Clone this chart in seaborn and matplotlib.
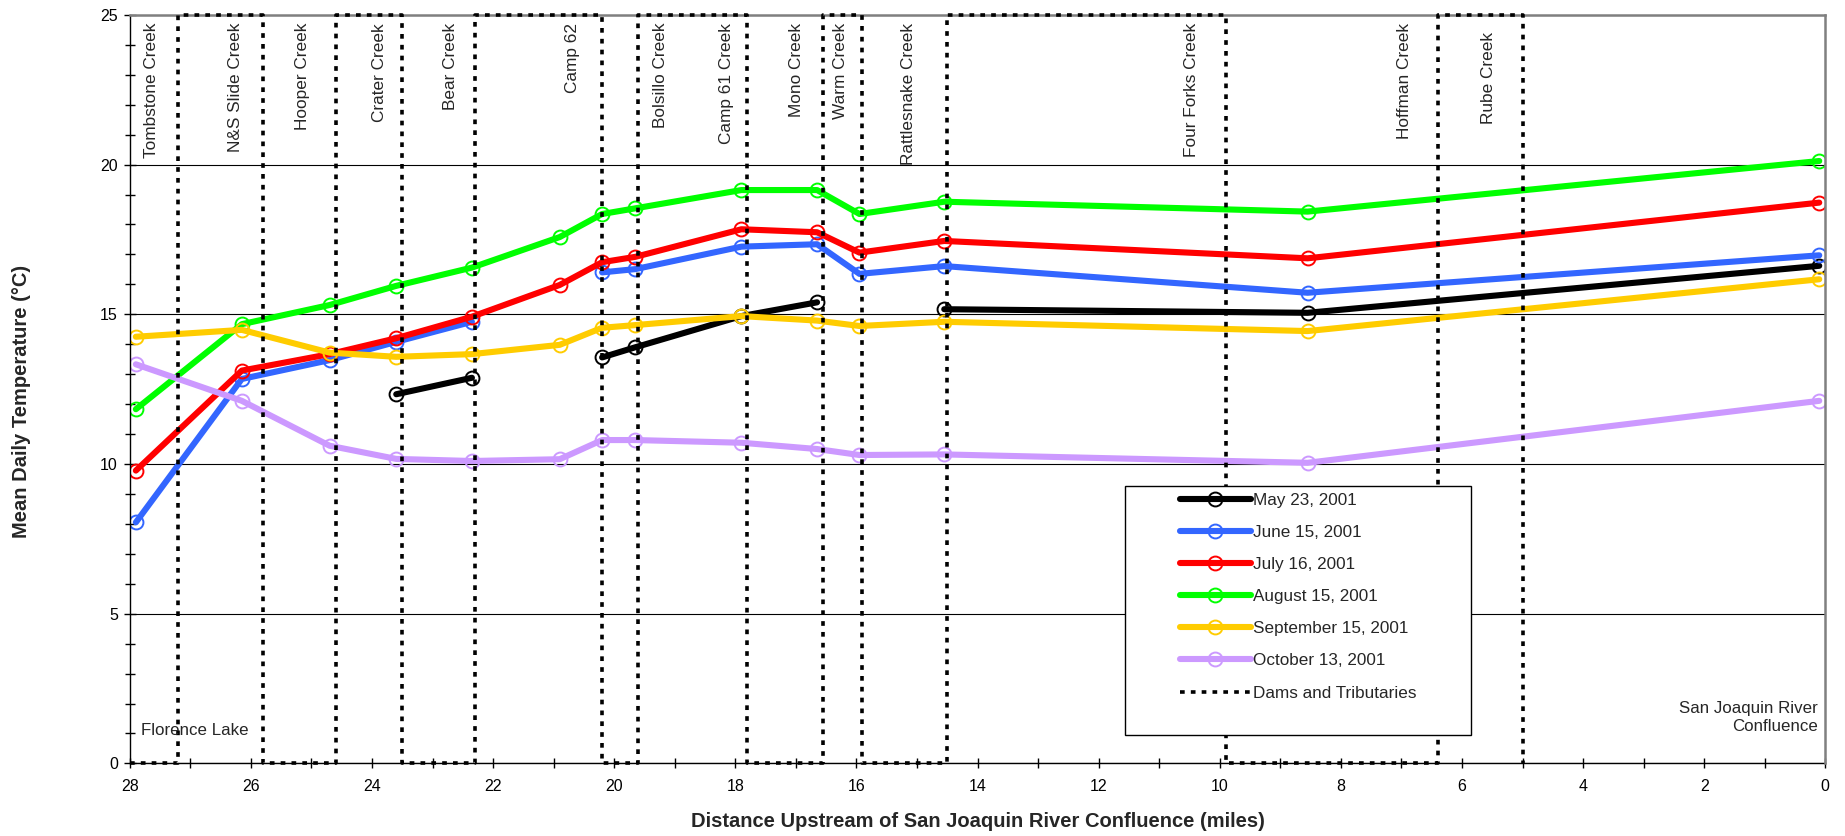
import numpy as np
import pandas as pd
import matplotlib
matplotlib.use("Agg")
import matplotlib.pyplot as plt
from matplotlib.patches import Rectangle
import seaborn as sns

# ---------------- data ----------------
miles = [27.9, 26.15, 24.7, 23.6, 22.35, 20.9, 20.2, 19.65, 17.9, 16.65, 15.95, 14.55, 8.55, 0.1]
nan = np.nan
may23 = [nan, nan, nan, 12.33, 12.88, nan, 13.56, 13.90, 14.94, 15.40, nan, 15.17, 15.05, 16.62]
jun15 = [8.05, 12.84, 13.47, 14.08, 14.75, nan, 16.40, 16.51, 17.26, 17.34, 16.35, 16.61, 15.72, 16.97]
jul16 = [9.78, 13.12, 13.67, 14.20, 14.92, 15.98, 16.74, 16.92, 17.84, 17.74, 17.06, 17.45, 16.87, 18.73]
aug15 = [11.83, 14.67, 15.31, 15.95, 16.56, 17.58, 18.35, 18.54, 19.15, 19.15, 18.35, 18.76, 18.43, 20.12]
sep15 = [14.25, 14.48, 13.72, 13.58, 13.67, 13.98, 14.55, 14.64, 14.94, 14.79, 14.61, 14.75, 14.44, 16.17]
oct13 = [13.33, 12.11, 10.61, 10.17, 10.10, 10.16, 10.80, 10.80, 10.71, 10.50, 10.30, 10.32, 10.04, 12.11]

series_labels = ["May 23, 2001", "June 15, 2001", "July 16, 2001",
                 "August 15, 2001", "September 15, 2001", "October 13, 2001"]
series_values = [may23, jun15, jul16, aug15, sep15, oct13]
series_colors = ["#000000", "#3366FF", "#FF0000", "#00FF00", "#FFCC00", "#CC99FF"]

dam_miles = [27.2, 25.8, 24.6, 23.5, 22.3, 20.2, 19.6, 17.8, 16.55, 15.9, 14.5, 9.9, 6.4, 5.0]
dam_label = "Dams and Tributaries"

creek_names = ["Tombstone Creek", "N&S Slide Creek", "Hooper Creek", "Crater Creek",
               "Bear Creek", "Camp 62", "Bolsillo Creek", "Camp 61 Creek", "Mono Creek",
               "Warm Creek", "Rattlesnake Creek", "Four Forks Creek", "Hoffman Creek",
               "Rube Creek"]
creek_label_miles = [27.64, 26.26, 25.15, 23.88, 22.70, 20.69, 19.23, 18.14, 16.99,
                     16.26, 15.14, 10.47, 6.95, 5.56]

x_min, x_max = 0, 28
y_min, y_max = 0, 25

# ---------------- style ----------------
sns.set_style("white")
plt.rcParams["font.family"] = ["Liberation Sans", "DejaVu Sans"]

W, H = 1845, 836
fig = plt.figure(figsize=(W / 100, H / 100), dpi=100)
ax_l, ax_r, ax_t, ax_b = 129.8, 1825.3, 14.9, 763.4
ax = fig.add_axes([ax_l / W, 1 - ax_b / H, (ax_r - ax_l) / W, (ax_b - ax_t) / H])

handles = []
for lab, vals, col in zip(series_labels, series_values, series_colors):
    v = np.array(vals, dtype=float)
    ok = ~np.isnan(v)
    seg = np.cumsum(np.r_[True, ok[1:] != ok[:-1]])
    df = pd.DataFrame({"mile": miles, "temp": v, "seg": seg})[ok]
    n_before = len(ax.lines)
    sns.lineplot(data=df, x="mile", y="temp", units="seg", estimator=None,
                 color=col, lw=4.4, marker="o", markersize=10,
                 mfc="none", mec=col, mew=1.4, ax=ax, zorder=2)
    handles.append(ax.lines[n_before])

# dams and tributaries square wave
dx, dy = [x_max], [y_min]
level = y_min
for d in dam_miles:
    other = y_max if level == y_min else y_min
    dx += [d, d]
    dy += [level, other]
    level = other
sns.lineplot(x=dx, y=dy, sort=False, estimator=None, color="black", lw=2.6,
             linestyle=(0, (1.3, 1.7)), ax=ax, zorder=3, clip_on=False)
dam_handle = ax.lines[-1]

ax.set_xlim(x_max, x_min)
ax.set_ylim(y_min, y_max)
ax.set_xticks(np.arange(0, 29, 2))
ax.set_xticks(np.arange(0, 29, 1), minor=True)
ax.set_yticks(np.arange(0, 26, 5))
ax.set_yticks(np.arange(0, 26, 1), minor=True)
ax.tick_params(axis="both", which="both", direction="inout", color="black", width=1,
               labelsize=11.5, labelcolor="black")
ax.tick_params(axis="x", which="both", length=7, pad=8, bottom=True)
ax.tick_params(axis="y", which="major", length=9, pad=4, left=True)
ax.tick_params(axis="y", which="minor", length=7, left=True)
ax.yaxis.grid(True, which="major", color="#000000", lw=0.8)
ax.xaxis.grid(False)

for s in ["left", "bottom"]:
    ax.spines[s].set_color("black")
    ax.spines[s].set_linewidth(1.0)
for s in ["top", "right"]:
    ax.spines[s].set_color("#808080")
    ax.spines[s].set_linewidth(1.8)
    ax.spines[s].set_zorder(2.6)

ax.set_xlabel("Distance Upstream of San Joaquin River Confluence (miles)",
              fontsize=14.5, fontweight="bold", va="center")
ax.xaxis.set_label_coords(0.5, (ax_b - 821.7) / (ax_b - ax_t))
ax.set_ylabel("Mean Daily Temperature (°C)", fontsize=14.5, fontweight="bold", va="center")
ax.yaxis.set_label_coords((22 - ax_l) / (ax_r - ax_l), (ax_b - 401) / (ax_b - ax_t))

# creek labels
for name, m in zip(creek_names, creek_label_miles):
    top = 24.43 if name == "Rube Creek" else 24.73
    ax.text(m, top, name, rotation=90, ha="center", va="top", fontsize=12.4, zorder=4)

ax.text(27.81, 1.1, "Florence Lake", ha="left", va="center", fontsize=12.2, zorder=4)
ax.text(0.12, 1.53, "San Joaquin River\nConfluence", ha="right", va="center",
        multialignment="right", fontsize=12.2, zorder=4, linespacing=1.25)

# legend box + legend
rect = Rectangle((1125 / W, 1 - 735 / H), (1470.7 - 1125) / W, (735 - 485.7) / H,
                 transform=fig.transFigure, facecolor="white", edgecolor="black",
                 lw=1.0, zorder=4.5, clip_on=False)
ax.add_patch(rect)
leg = ax.legend(handles + [dam_handle], series_labels + [dam_label],
                loc="upper left", bbox_to_anchor=(1180 / W, 1 - 493 / H),
                bbox_transform=fig.transFigure, frameon=False, borderpad=0,
                borderaxespad=0, handlelength=4.15, handletextpad=0.1,
                labelspacing=1.0, fontsize=12.3, numpoints=1)
leg.set_zorder(5)

fig.savefig("out.png", dpi=100)
